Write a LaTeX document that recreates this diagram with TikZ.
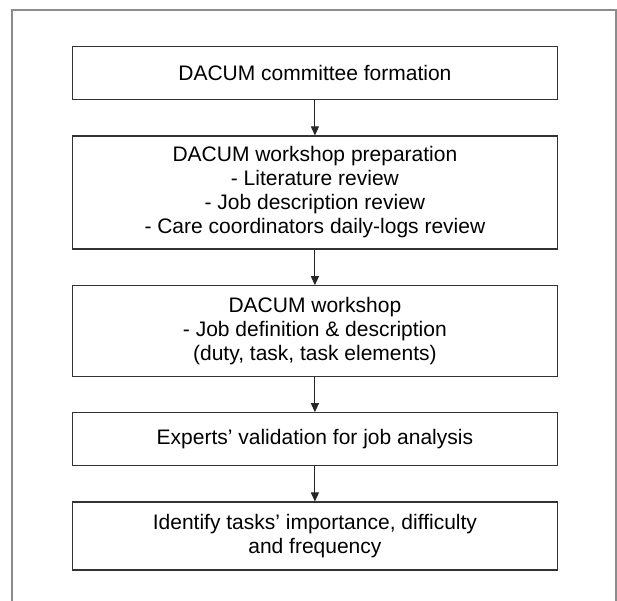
\documentclass[tikz,border=0pt]{standalone}
\usepackage{fontspec}
\setmainfont{Liberation Sans}
\usetikzlibrary{arrows.meta}
\begin{document}
\begin{tikzpicture}[x=1pt,y=-1pt,
  stepbox/.style={draw=black!80, line width=1.1pt, minimum width=484.3pt, align=center,
    font=\fontsize{21}{24}\selectfont, inner sep=0pt},
  arr/.style={-{Triangle[length=9pt,width=8pt]}, draw=black!85, line width=1pt}]
\useasboundingbox (0,0) rectangle (617,600);
\clip (0,0) rectangle (617,600);
\draw[black!45, line width=1.2pt] (12,650) -- (12,10) -- (616,10) -- (616,650);
\node[stepbox, minimum height=52.6pt] (b1) at (314.9,73) {DACUM committee formation};
\node[stepbox, minimum height=113pt] (b2) at (314.9,192.5) {DACUM workshop preparation\\- Literature review\\- Job description review\\- Care coordinators daily-logs review};
\node[stepbox, minimum height=91pt] (b3) at (314.9,331.2) {DACUM workshop\\- Job definition \& description\\(duty, task, task elements)};
\node[stepbox, minimum height=53pt] (b4) at (314.9,439.2) {Experts’ validation for job analysis};
\node[stepbox, minimum height=68pt] (b5) at (314.9,536) {Identify tasks’ importance, difficulty\\and frequency};
\draw[arr] (b1.south) -- (b2.north);
\draw[arr] (b2.south) -- (b3.north);
\draw[arr] (b3.south) -- (b4.north);
\draw[arr] (b4.south) -- (b5.north);
\end{tikzpicture}
\end{document}
